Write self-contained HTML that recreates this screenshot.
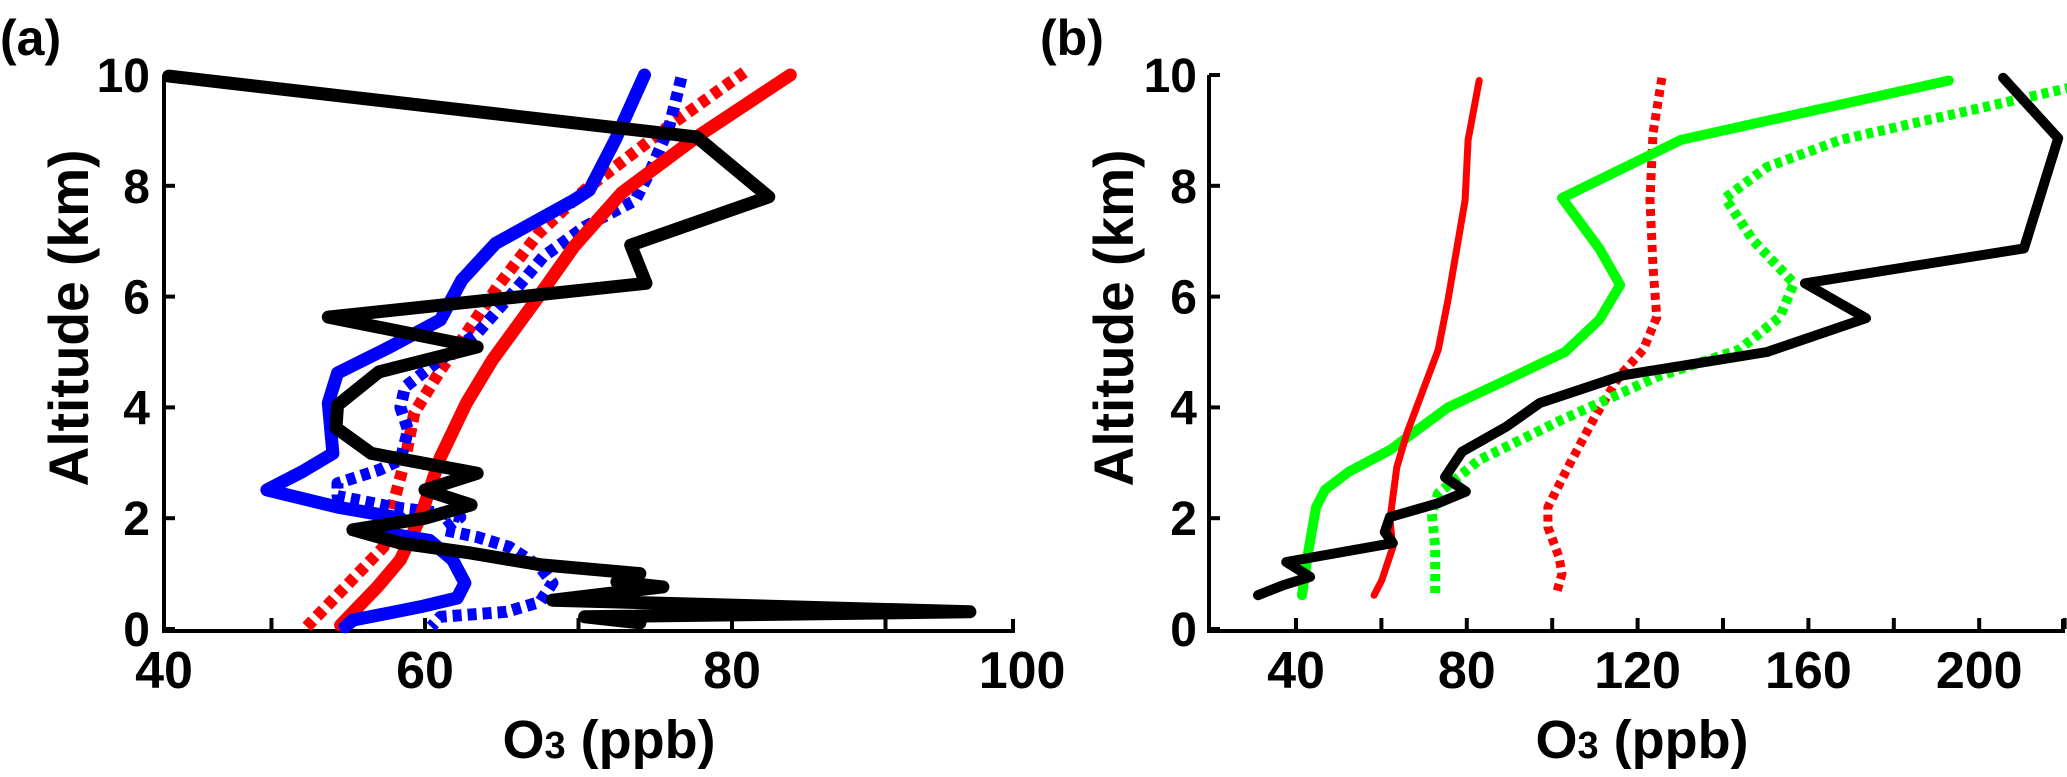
<!DOCTYPE html>
<html><head><meta charset="utf-8"><style>
html,body{margin:0;padding:0;background:#fff;}
svg{display:block;font-family:"Liberation Sans",sans-serif;font-weight:bold;}
</style></head><body>
<svg id="chart" width="2067" height="777" viewBox="0 0 2067 777" xmlns="http://www.w3.org/2000/svg">
<text x="0" y="55" font-size="50">(a)</text>
<text x="1040" y="55" font-size="50">(b)</text>
<g id="pa"></g>
<g id="pb"></g>
</svg>
<script>
// ---- Panel (a) data ----
const aAltTicks = [0,2,4,6,8,10];
const aXTickVals = [50,60,70,80,90];
const aXLabels = ["40","60","80","100"];
const aXLabelVals = [43,60,80,98.9];
const aBlackX = [43.3,77.7,82.4,73.4,74.4,53.7,63.4,57.0,54.3,54.2,56.5,63.4,60.0,63.0,60.0,55.3,58.4,63.0,67.5,74.0,72.5,75.5,68.3,95.5,70.4,74.0];
const aBlackY = [9.98,8.88,7.8,6.93,6.24,5.63,5.09,4.64,4.04,3.63,3.17,2.81,2.51,2.24,2.0,1.79,1.55,1.37,1.16,1.0,0.85,0.76,0.52,0.31,0.22,0.11];
const aBlueX = [74.3,72.4,70.7,69.7,64.6,62.4,61.0,57.7,54.3,53.7,54.0,52.0,49.7,54.3,58.4,57.0,60.3,61.8,62.6,62.1,59.7,55.3,54.8];
const aBlueY = [10,8.83,7.92,7.74,6.96,6.3,5.58,5.09,4.62,4.08,3.17,2.84,2.51,2.2,2.0,1.75,1.6,1.25,0.83,0.56,0.4,0.16,0.04];
const aBlueDotX = [76.7,75.9,74.7,73.7,70.4,67.7,65.7,63.4,60.7,58.7,58.4,58.9,58.4,57.0,54.3,54.3,57.9,61.2,62.3,61.2,63.4,65.5,67.5,68.3,67.5,65.3,61.0,60.4];
const aBlueDotY = [9.95,9.06,8.28,7.74,7.26,6.72,6.06,5.34,4.8,4.37,4.0,3.59,3.05,2.87,2.63,2.4,2.2,2.09,2.02,1.79,1.66,1.48,1.12,0.83,0.49,0.31,0.22,0.04];
const aRedX = [83.8,77.7,72.8,69.7,67.4,64.4,62.7,61.0,59.7,58.4,56.9,54.5];
const aRedY = [10,8.88,7.87,6.9,6.0,4.86,4.08,3.1,2.02,1.25,0.76,0.07];
const aRedDotX = [80.8,75.8,70.4,67.4,64.7,62.7,61.0,59.3,58.7,58.0,57.3,52.3];
const aRedDotY = [10.05,9.06,7.92,7.14,6.17,5.34,4.67,3.9,3.05,2.33,1.48,0.04];
// ---- Panel (b) data ----
const bAltTicks = [0,2,4,6,8,10];
const bXTickVals = [40,60,80,100,120,140,160,180,200,220];
const bXLabels = ["40","80","120","160","200"];
const bXLabelVals = [40,80,120,160,200];
const bRedX = [82.9,80.3,79.6,75.6,73.3,66.0,63.6,62.0,62.7,60.1,58.3];
const bRedY = [9.9,8.83,7.74,5.94,5.04,3.54,2.92,1.97,1.48,0.88,0.61];
const bRedDotX = [125.7,123.6,122.9,123.6,124.5,121.3,115.6,110.0,103.7,99.0,99.0,101.6,102.3,100.9];
const bRedDotY = [9.95,8.95,7.74,6.53,5.63,5.04,4.55,3.83,2.92,2.2,1.84,1.3,1.0,0.61];
const bGreenX = [192.9,130.2,102.3,111.0,115.9,111.0,103.0,87.8,75.6,62.0,52.4,46.8,44.7,42.8,41.4];
const bGreenY = [9.9,8.83,7.78,6.87,6.21,5.58,5.0,4.44,4.0,3.23,2.84,2.51,2.2,1.37,0.61];
const bGreenDotX = [221.7,167.6,150.3,140.5,147.0,156.6,153.3,143.7,124.5,102.1,82.9,73.3,71.8,72.6,72.6];
const bGreenDotY = [9.78,8.83,8.34,7.78,7.02,6.24,5.63,5.04,4.55,3.77,3.05,2.45,2.09,1.48,0.61];
const bBlackX = [205.6,218.5,210.5,159.2,173.5,150.3,116.6,97.1,89.2,78.9,74.9,79.8,73.3,62.0,60.8,62.7,37.7,43.3,37.0,31.1];
const bBlackY = [9.95,8.86,6.87,6.24,5.61,5.0,4.58,4.08,3.65,3.2,2.74,2.48,2.27,2.02,1.75,1.55,1.21,0.94,0.79,0.61];

const NS = "http://www.w3.org/2000/svg";
function mk(parent, tag, attrs){ const e=document.createElementNS(NS,tag); for(const k in attrs) e.setAttribute(k,attrs[k]); parent.appendChild(e); return e; }

const yA = a => 629 - a*55.4;
const xA = v => 425 + (v-60)*15.35;
const xB = v => 1296 + (v-40)*4.27;
const yB = a => 629 - a*55.4;

function line(parent, xs, ys, fx, fy, color, w, dash, name){
  const pts = xs.map((v,i)=> fx(v).toFixed(1)+","+fy(ys[i]).toFixed(1)).join(" ");
  const p = mk(parent,"polyline",{points:pts,fill:"none",stroke:color,"stroke-width":w,"stroke-linejoin":"round","stroke-linecap":dash?"butt":"round"});
  if(dash) p.setAttribute("stroke-dasharray",dash);
  
  
}

function axes(g, left, right, bottom, top, fy, altTicks, ticks, fx, labs, labVals, lblRight, xTitleX, yTitleX, pre){
  const ax = mk(g,"path",{d:`M${left},${top} V${bottom+2} H${right} V${bottom-10}`,fill:"none",stroke:"#000","stroke-width":4});
  
  
  altTicks.forEach(a=>{
    const t = mk(g,"line",{x1:left,x2:left+11,y1:fy(a),y2:fy(a),stroke:"#000","stroke-width":4});
    
    
    const tx = mk(g,"text",{x:lblRight,y:fy(a)+17,"font-size":48,"text-anchor":"end"});
    tx.textContent = a;
    
    
  });
  ticks.forEach(v=>{
    const t = mk(g,"line",{x1:fx(v),x2:fx(v),y1:bottom,y2:bottom-11,stroke:"#000","stroke-width":4});
    
    
  });
  labs.forEach((s,i)=>{
    const tx = mk(g,"text",{x:fx(labVals[i]),y:688,"font-size":52,"text-anchor":"middle"});
    tx.textContent = s;
    
    
  });
  const xt = mk(g,"text",{x:xTitleX,y:758,"font-size":54,"text-anchor":"middle"});
  xt.innerHTML = 'O<tspan font-size="38">3</tspan> (ppb)';
  
  
  const yt = mk(g,"text",{x:0,y:0,"font-size":56,"text-anchor":"middle",transform:`translate(${yTitleX},318) rotate(-90)`,textLength:337,lengthAdjust:"spacingAndGlyphs"});
  yt.textContent = "Altitude (km)";
  
  
}

const pa = document.getElementById("pa");
axes(pa,164,1013,629,75,yA,aAltTicks,aXTickVals,xA,aXLabels,aXLabelVals,150,609,88,"panel-a");
line(pa,aRedDotX,aRedDotY,xA,yA,"#ff0000",12,"9 6","series-a-red-dotted");
line(pa,aBlueDotX,aBlueDotY,xA,yA,"#0000ff",12,"9 6","series-a-blue-dotted");
line(pa,aRedX,aRedY,xA,yA,"#ff0000",13,null,"series-a-red-solid");
line(pa,aBlueX,aBlueY,xA,yA,"#0000ff",13,null,"series-a-blue-solid");
line(pa,aBlackX,aBlackY,xA,yA,"#000000",13,null,"series-a-black-solid");

const pb = document.getElementById("pb");
axes(pb,1209,2063,629,75,yB,bAltTicks,bXTickVals,xB,bXLabels,bXLabelVals,1197,1642,1133,"panel-b");
line(pb,bRedDotX,bRedDotY,xB,yB,"#ff0000",9,"7 5","series-b-red-dotted");
line(pb,bGreenDotX,bGreenDotY,xB,yB,"#00ff00",10,"7 5","series-b-green-dotted");
line(pb,bGreenX,bGreenY,xB,yB,"#00ff00",10,null,"series-b-green-solid");
line(pb,bRedX,bRedY,xB,yB,"#ff0000",7,null,"series-b-red-solid");
line(pb,bBlackX,bBlackY,xB,yB,"#000000",10,null,"series-b-black-solid");
</script>
</body></html>
